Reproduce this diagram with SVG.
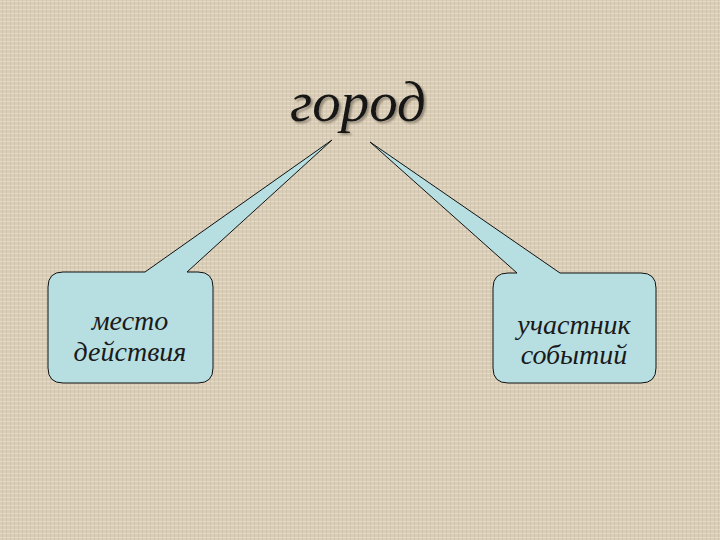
<svg xmlns="http://www.w3.org/2000/svg" width="720" height="540" viewBox="0 0 720 540">
<defs>
<pattern id="tex" width="8" height="8" patternUnits="userSpaceOnUse">
<rect width="8" height="8" fill="#d9cdb7"/>
<path d="M0 1.5H8M0 5.5H8" stroke="#e6dccb" stroke-width="1"/>
<path d="M2.5 0V8M6.5 0V8" stroke="#cbbda5" stroke-width="0.6"/>
</pattern>
<filter id="shadow" x="-10%" y="-20%" width="120%" height="140%">
<feDropShadow dx="2" dy="2" stdDeviation="1" flood-color="#8a8070" flood-opacity="0.9"/>
</filter>
<style>
.call{fill:#b7dfe2;stroke:#111;stroke-width:1;stroke-linejoin:miter}
.lbl{font-family:"Liberation Serif",serif;font-style:italic;font-size:28px;fill:#1a1a1a;text-anchor:middle}
.title{font-family:"Liberation Serif",serif;font-style:italic;font-size:57px;text-anchor:middle;fill:#141414}
</style>
</defs>
<rect width="720" height="540" fill="url(#tex)"/>
<g id="title">
<text class="title" x="358" y="121" filter="url(#shadow)">город</text>
</g>
<g id="connectors"></g>
<g id="node-left">
<path class="call" d="M63,272 L145,272 L332,140 L187,272 L198,272 Q213,272 213,287 L213,368 Q213,383 198,383 L63,383 Q48,383 48,368 L48,287 Q48,272 63,272 Z"/>
<text class="lbl" x="130" y="330">место</text>
<text class="lbl" x="130" y="361">действия</text>
</g>
<g id="node-right">
<path class="call" d="M508,273 L517,273 L370,142 L560,273 L641,273 Q656,273 656,288 L656,368 Q656,383 641,383 L508,383 Q493,383 493,368 L493,288 Q493,273 508,273 Z"/>
<text class="lbl" x="574" y="334">участник</text>
<text class="lbl" x="574" y="364">событий</text>
</g>
</svg>
